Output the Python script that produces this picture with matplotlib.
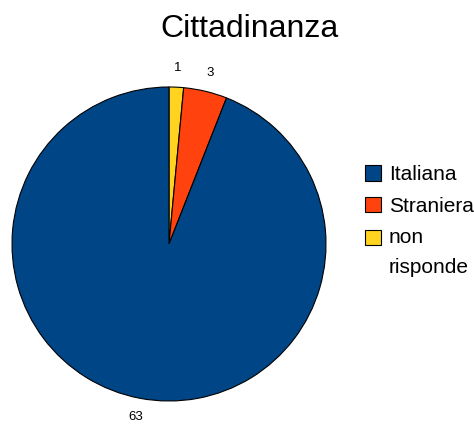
import matplotlib.pyplot as plt

plt.rcParams['font.family'] = ['Liberation Sans', 'DejaVu Sans']

labels = ['non\nrisponde', 'Straniera', 'Italiana']
values = [1, 3, 63]
colors = ['#ffd320', '#ff420e', '#004586']

fig = plt.figure(figsize=(4.74, 4.26), dpi=100)
ax = fig.add_axes([12 / 474, 25 / 426, 314 / 474, 314 / 426])

wedges, texts = ax.pie(values, labels=[str(v) for v in values], colors=colors,
                       startangle=90, counterclock=False, labeldistance=1.12,
                       wedgeprops=dict(edgecolor='black', linewidth=0.8),
                       textprops=dict(fontsize=9.5))
for t in texts:
    t.set_ha('center')
    t.set_va('center')
ax.set_xlim(-1, 1)
ax.set_ylim(-1, 1)
ax.set_aspect('equal')

fig.text(250 / 474, 1 - 29 / 426, 'Cittadinanza', fontsize=23, ha='center', va='center')

leg = fig.legend(wedges[::-1], labels[::-1], loc='upper left',
                 bbox_to_anchor=(357 / 474, 1 - 157 / 426), frameon=False,
                 fontsize=15, handlelength=0.77, handleheight=0.77,
                 handletextpad=0.35, labelspacing=0.6, borderaxespad=0)
for t in leg.get_texts():
    t.set_linespacing(1.7)
for h in leg.legend_handles:
    h.set_linewidth(0.8)
# keep the yellow box next to the first line of its two-line label
last = leg.legend_handles[2]
last.set_y(last.get_y() + 11.0)

fig.savefig('out.png', dpi=100)
